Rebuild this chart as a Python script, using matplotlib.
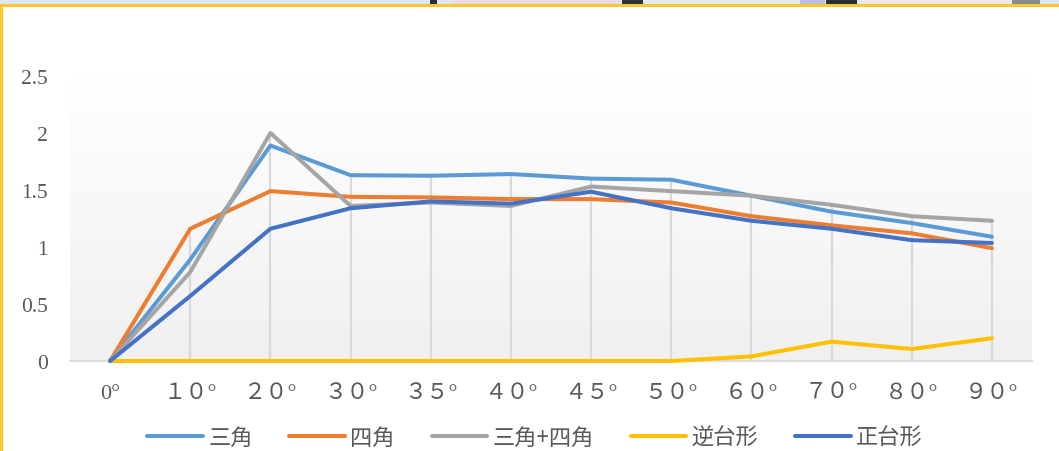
import matplotlib
matplotlib.use("Agg")
import matplotlib.pyplot as plt
import matplotlib.patches as mpatches
import numpy as np

# categorias (angulo) e series
angulos = ["0°", "１０°", "２０°", "３０°", "３５°", "４０°", "４５°", "５０°", "６０°", "７０°", "８０°", "９０°"]
sankaku = [0, 0.89, 1.89, 1.63, 1.625, 1.64, 1.60, 1.59, 1.45, 1.31, 1.21, 1.09]
shikaku = [0, 1.16, 1.49, 1.44, 1.435, 1.42, 1.42, 1.39, 1.27, 1.19, 1.12, 0.99]
sankaku_shikaku = [0, 0.78, 2.00, 1.36, 1.39, 1.36, 1.53, 1.49, 1.45, 1.37, 1.27, 1.23]
gyaku_daikei = [0, 0, 0, 0, 0, 0, 0, 0, 0.04, 0.17, 0.105, 0.20]
sei_daikei = [0, 0.57, 1.16, 1.34, 1.40, 1.38, 1.485, 1.34, 1.23, 1.16, 1.06, 1.035]

nomes = ["三角", "四角", "三角+四角", "逆台形", "正台形"]
cores = ["#5B9BD5", "#ED7D31", "#A5A5A5", "#FFC000", "#4472C4"]
yticks = [0, 0.5, 1, 1.5, 2, 2.5]

series = [sankaku, shikaku, sankaku_shikaku, gyaku_daikei, sei_daikei]
cor_texto = "#595959"

fig = plt.figure(figsize=(10.59, 4.52), dpi=100)
fig.patch.set_facecolor("white")

# faixa superior e moldura amarela
fig.patches.append(mpatches.Rectangle((0, 1 - 5.5 / 452), 1, 5.5 / 452, transform=fig.transFigure,
                                      facecolor="#dde7f3", edgecolor="none", zorder=0))
for x0, x1, c in [(430, 437, "#2b2f33"), (452, 620, "#e9dde3"), (622, 643, "#2f3336"),
                  (645, 800, "#e6e8ea"), (800, 825, "#b9bfdc"), (826, 857, "#2a2d31"),
                  (860, 1012, "#ebeae6"), (1012, 1040, "#8a8a8a")]:
    fig.patches.append(mpatches.Rectangle((x0 / 1059, 1 - 5 / 452), (x1 - x0) / 1059, 5 / 452,
                                          transform=fig.transFigure, facecolor=c,
                                          edgecolor="none", zorder=1))
fig.patches.append(mpatches.Rectangle((0, 1 - 7.5 / 452), 1, 2.5 / 452, transform=fig.transFigure,
                                      facecolor="#FFC72C", edgecolor="none", zorder=2))
fig.patches.append(mpatches.Rectangle((0, 0), 2.5 / 1059, 1 - 5.5 / 452, transform=fig.transFigure,
                                      facecolor="#FFC72C", edgecolor="none", zorder=2))

ax = fig.add_axes([70 / 1059, 1 - 362 / 452, (1032 - 70) / 1059, (362 - 77) / 452])
x = np.arange(len(angulos))

# fundo em degrade
grad = np.linspace(1.0, 0.0, 256).reshape(-1, 1)
cinza = np.array([0xf0, 0xf0, 0xf0]) / 255
branco = np.array([1.0, 1.0, 1.0])
img = grad[..., None] * branco + (1 - grad[..., None]) * cinza
ax.imshow(img, extent=[-0.5, 11.5, 0, 2.5], aspect="auto", zorder=0, origin="upper")

# linhas verticais ate o maior valor de cada categoria
topo = np.max(np.array(series), axis=0)
ax.vlines(x, 0, topo, colors="#d9d9d9", linewidth=1.6, zorder=1)

for vals, nome, cor in zip(series, nomes, cores):
    ax.plot(x, vals, color=cor, linewidth=2.9, label=nome, zorder=3, clip_on=False,
            solid_capstyle="round", solid_joinstyle="round")

ax.set_xlim(-0.5, 11.5)
ax.set_ylim(0, 2.5)
ax.set_yticks(yticks)
ax.set_yticklabels(["0", "0.5", "1", "1.5", "2", "2.5"], family="Liberation Serif",
                   fontsize=15.5, color=cor_texto)
ax.set_xticks(x)
ax.set_xticklabels(angulos, family=["Liberation Serif", "Noto Sans CJK JP"],
                   fontsize=16, color=cor_texto)
ax.tick_params(axis="y", length=0, pad=16)
ax.tick_params(axis="x", length=0, pad=16.5)

for s in ["top", "right", "left"]:
    ax.spines[s].set_visible(False)
ax.spines["bottom"].set_color("#d9d9d9")
ax.spines["bottom"].set_linewidth(1.3)
ax.spines["bottom"].set_zorder(2)

leg = fig.legend(loc="center", bbox_to_anchor=(535 / 1059, 1 - 438 / 452), ncol=5, frameon=False,
                 prop={"family": "Noto Sans CJK JP", "size": 16}, handlelength=2.5,
                 handletextpad=0.25, columnspacing=1.65, borderaxespad=0)
for t in leg.get_texts():
    t.set_color(cor_texto)

fig.savefig("out.png", dpi=100)
